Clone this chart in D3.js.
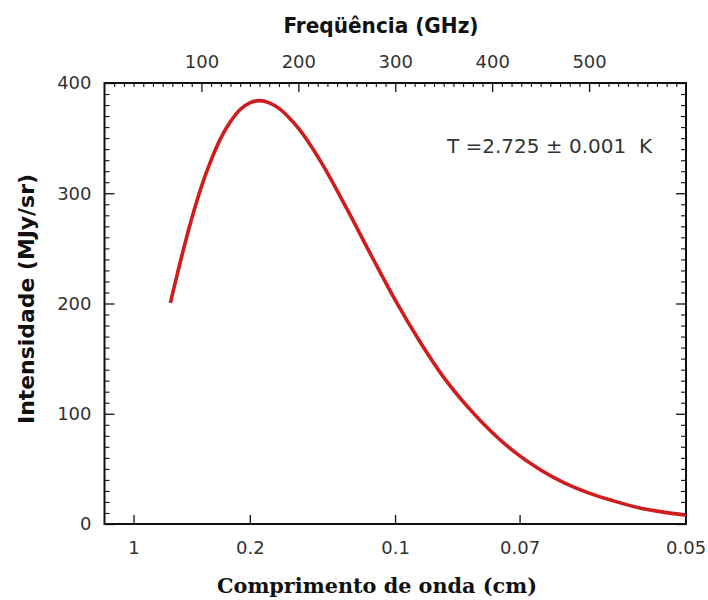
<!DOCTYPE html>
<html>
<head>
<meta charset="utf-8">
<script src="https://cdn.jsdelivr.net/npm/d3@7"></script>
<style>
  html, body { margin: 0; padding: 0; background: #fff; }
  svg { display: block; }
</style>
</head>
<body>
<script>
// Cosmic microwave background spectrum, intensity vs frequency
const frequencyGHz = [68, 70, 80, 90, 100, 110, 120, 130, 140, 150, 160, 170, 180, 190, 200,
                      225, 250, 275, 300, 325, 350, 375, 400, 425, 450, 475, 500, 525, 550, 575, 600];
const intensity    = [200.6, 208, 244, 277, 306, 330, 350, 365, 376, 382, 384, 382, 377, 369, 359,
                      326, 286, 244, 203, 166, 133, 106, 83, 64, 49, 37, 28, 21, 15, 11, 8];

const freqTicks = [100, 200, 300, 400, 500];
const intensityTicks = [0, 100, 200, 300, 400];
const wavelengthTicks = [1, 0.2, 0.1, 0.07, 0.05];
const wavelengthLabels = ["1", "0.2", "0.1", "0.07", "0.05"];
const tempLabel = "T =2.725 \u00B1 0.001  K";

const W = 708, H = 600;
const plotLeft = 104.5, plotRight = 686, plotTop = 83, plotBottom = 524;
const C_CM_GHZ = 29.9792458; // speed of light in cm·GHz

const svg = d3.select("body").append("svg").attr("width", W).attr("height", H);
svg.append("rect").attr("width", W).attr("height", H).attr("fill", "#fff");

const x = d3.scaleLinear().domain([0, 600]).range([plotLeft, plotRight]);
const y = d3.scaleLinear().domain([0, 400]).range([plotBottom, plotTop]);

const tickFont = "'DejaVu Sans', Verdana, sans-serif";
const tickColor = "#333";

function styleAxis(g, strokeW) {
  g.select(".domain").remove();
  g.selectAll(".tick line").attr("stroke", "#111").attr("stroke-width", strokeW || 1.3);
  g.selectAll(".tick text").attr("fill", tickColor)
    .style("font-family", tickFont).style("font-size", "18px");
}

const minorY = d3.range(0, 401, 10).filter(v => v % 100 !== 0);
const minorX = d3.range(10, 600, 10).filter(v => v % 100 !== 0);

// left axis
svg.append("g").attr("transform", `translate(${plotLeft},0)`)
  .call(d3.axisLeft(y).tickValues(minorY).tickSizeInner(-5).tickFormat(""))
  .call(g => styleAxis(g, 1.1));
svg.append("g").attr("transform", `translate(${plotLeft},0)`)
  .call(d3.axisLeft(y).tickValues(intensityTicks).tickSizeInner(-10).tickPadding(13))
  .call(g => styleAxis(g));

// right axis
svg.append("g").attr("transform", `translate(${plotRight},0)`)
  .call(d3.axisRight(y).tickValues(minorY).tickSizeInner(-5).tickFormat(""))
  .call(g => styleAxis(g, 1.1));
svg.append("g").attr("transform", `translate(${plotRight},0)`)
  .call(d3.axisRight(y).tickValues(intensityTicks).tickSizeInner(-10).tickFormat(""))
  .call(g => styleAxis(g));

// top axis: frequency
svg.append("g").attr("transform", `translate(0,${plotTop})`)
  .call(d3.axisTop(x).tickValues(minorX).tickSizeInner(-4).tickFormat(""))
  .call(g => styleAxis(g, 1.1));
svg.append("g").attr("transform", `translate(0,${plotTop})`)
  .call(d3.axisTop(x).tickValues(freqTicks).tickSizeInner(-9).tickPadding(15))
  .call(g => styleAxis(g));

// bottom axis: wavelength
svg.append("g").attr("transform", `translate(0,${plotBottom})`)
  .call(d3.axisBottom(x)
    .tickValues(wavelengthTicks.map(w => C_CM_GHZ / w))
    .tickSizeInner(-9).tickPadding(17)
    .tickFormat((d, i) => wavelengthLabels[i]))
  .call(g => styleAxis(g));

// frame
svg.append("rect")
  .attr("x", plotLeft).attr("y", plotTop)
  .attr("width", plotRight - plotLeft).attr("height", plotBottom - plotTop)
  .attr("fill", "none").attr("stroke", "#111").attr("stroke-width", 2);

// spectrum curve
const line = d3.line()
  .x((d, i) => x(frequencyGHz[i]))
  .y(d => y(d))
  .curve(d3.curveMonotoneX);
svg.append("path")
  .datum(intensity)
  .attr("d", line)
  .attr("fill", "none")
  .attr("stroke", "#d01c1c")
  .attr("stroke-width", 3.6);

// temperature annotation
svg.append("text")
  .attr("x", 447).attr("y", 153)
  .attr("fill", "#333")
  .style("font-family", "'DejaVu Sans Condensed', 'DejaVu Sans', sans-serif")
  .style("font-size", "20px")
  .attr("textLength", 205).attr("lengthAdjust", "spacingAndGlyphs")
  .style("white-space", "pre")
  .text(tempLabel);

// titles
const boldSans = "'DejaVu Sans Condensed', 'DejaVu Sans', sans-serif";
svg.append("text")
  .attr("x", 381).attr("y", 33)
  .attr("text-anchor", "middle")
  .attr("fill", "#111")
  .style("font-family", boldSans).style("font-weight", "bold")
  .style("font-size", "22px")
  .attr("textLength", 195).attr("lengthAdjust", "spacingAndGlyphs")
  .text("Freqüência (GHz)");

svg.append("text")
  .attr("x", 377).attr("y", 593)
  .attr("text-anchor", "middle")
  .attr("fill", "#111")
  .style("font-family", "'DejaVu Serif Condensed', 'DejaVu Serif', serif").style("font-weight", "bold")
  .style("font-size", "21px")
  .attr("textLength", 320).attr("lengthAdjust", "spacingAndGlyphs")
  .text("Comprimento de onda (cm)");

svg.append("text")
  .attr("transform", "translate(34,299) rotate(-90)")
  .attr("text-anchor", "middle")
  .attr("fill", "#111")
  .style("font-family", boldSans).style("font-weight", "bold")
  .style("font-size", "22px")
  .attr("textLength", 250).attr("lengthAdjust", "spacingAndGlyphs")
  .text("Intensidade (MJy/sr)");
</script>
</body>
</html>
